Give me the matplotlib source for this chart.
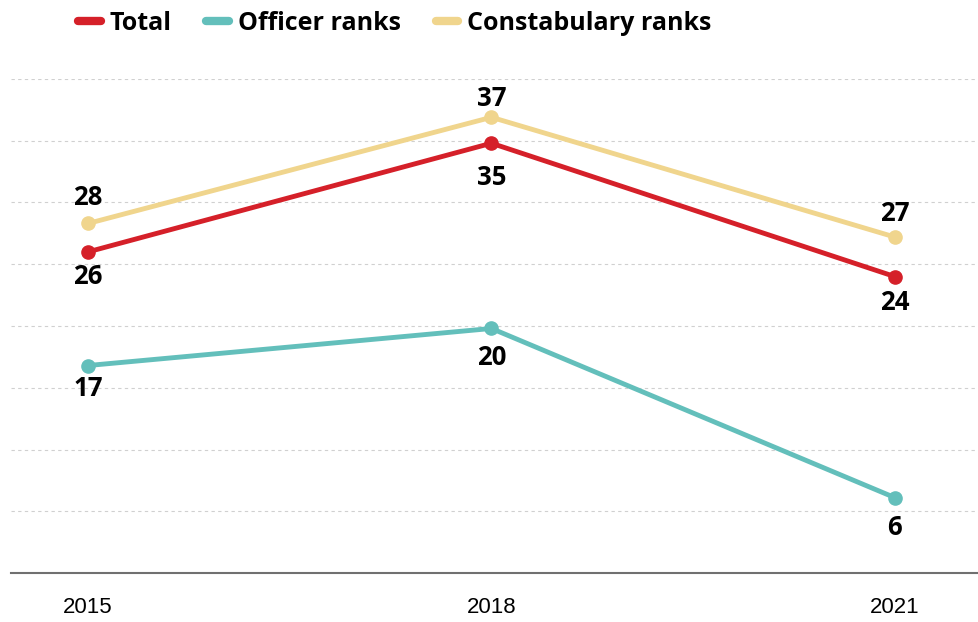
import matplotlib
matplotlib.use("Agg")
import matplotlib.pyplot as plt
from matplotlib.lines import Line2D

years = [2015, 2018, 2021]
total = [26.0, 34.8, 24.0]
officer = [16.8, 19.8, 6.1]
constabulary = [28.3, 36.9, 27.2]
total_labels = ["26", "35", "24"]
officer_labels = ["17", "20", "6"]
constabulary_labels = ["28", "37", "27"]
series_names = ["Total", "Officer ranks", "Constabulary ranks"]
colors = ["#d52029", "#63bfbb", "#f0d58d"]

# label offsets in pixels (style only)
total_off = [-25, -34, -26]
officer_off = [-23, -29, -30]
constab_off = [26, 19, 24]

fig = plt.figure(figsize=(9.79, 6.22), dpi=100)
ax = fig.add_axes([11/979, 1 - 573/622, 1 - 11/979, (573 - 79)/622])

ax.set_xlim(2014.428, 2021.625)
ax.set_ylim(0, 40)
ax.set_yticks(range(5, 41, 5))
ax.yaxis.grid(True, color="#d0d0d0", linestyle=(0, (3, 3)), linewidth=0.8)
ax.set_axisbelow(True)
for s in ["top", "right", "left"]:
    ax.spines[s].set_visible(False)
ax.spines["bottom"].set_color("#707070")
ax.spines["bottom"].set_linewidth(1.5)
ax.tick_params(axis="y", left=False, labelleft=False, length=0)
ax.tick_params(axis="x", bottom=False, length=0, pad=17)
ax.set_xticks(years)
ax.set_xticklabels([str(y) for y in years], fontsize=16, family="Liberation Sans")

lab_font = dict(family="Open Sans", weight="bold", fontsize=18.5)
px = 72 / 100

def draw(vals, labels, offs, color, z):
    ax.plot(years, vals, color=color, lw=3.5, marker="o", ms=9.5, zorder=z,
            solid_capstyle="round", solid_joinstyle="round", clip_on=False)
    for x, v, t, o in zip(years, vals, labels, offs):
        ax.annotate(t, (x, v), xytext=(0, o * px), textcoords="offset points",
                    ha="center", va="center", color="black", **lab_font)

draw(constabulary, constabulary_labels, constab_off, colors[2], 3)
draw(total, total_labels, total_off, colors[0], 4)
draw(officer, officer_labels, officer_off, colors[1], 4)

handles = [Line2D([0], [0], color=c, lw=6, solid_capstyle="round") for c in colors]
leg = fig.legend(handles, series_names, loc="center left", bbox_to_anchor=(78/979, 1 - 23/622),
                 ncol=3, frameon=False, handlelength=0.9, handletextpad=0.35,
                 columnspacing=1.4, borderpad=0, borderaxespad=0,
                 prop=dict(family="Open Sans", weight="bold", size=18))

fig.savefig("out.png", dpi=100)
